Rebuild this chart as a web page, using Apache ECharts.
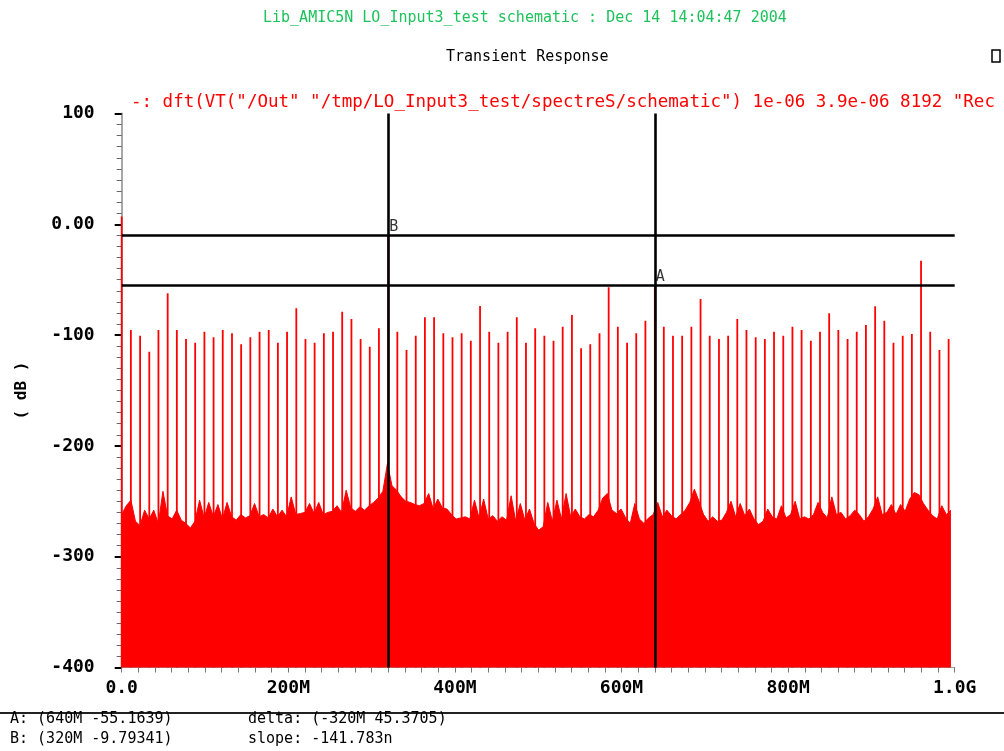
<!DOCTYPE html>
<html>
<head>
<meta charset="utf-8">
<title>Transient Response</title>
<script src="https://cdn.jsdelivr.net/npm/echarts/dist/echarts.min.js"></script>
<style>
html, body { margin: 0; padding: 0; background: #fff; }
#chart { width: 1004px; height: 751px; }
</style>
</head>
<body>
<div id="chart"></div>
<script>
// spectral lines (MHz / dB)
const spikeFreq = [
    0, 11.0, 22.1, 33.1, 44.1, 55.2, 66.2, 77.2, 88.2, 99.3, 110.3,
    121.3, 132.4, 143.4, 154.4, 165.5, 176.5, 187.5, 198.5, 209.6, 220.6,
    231.6, 242.7, 253.7, 264.7, 275.8, 286.8, 297.8, 308.8, 320.0, 330.9,
    341.9, 353.0, 364.0, 375.0, 386.1, 397.1, 408.1, 419.1, 430.2, 441.2,
    452.2, 463.3, 474.3, 485.3, 496.4, 507.4, 518.4, 529.4, 540.5, 551.5,
    562.5, 573.6, 584.6, 595.6, 606.7, 617.7, 628.7, 640.0, 650.8, 661.8,
    672.8, 683.9, 694.9, 705.9, 717.0, 728.0, 739.0, 750.0, 761.1, 772.1,
    783.1, 794.2, 805.2, 816.2, 827.3, 838.3, 849.3, 860.3, 871.4, 882.4,
    893.4, 904.5, 915.5, 926.5, 937.6, 948.6, 959.6, 970.6, 981.7, 992.7
];
const spikeDb = [
    7,
    -95.4, -100.5, -115.0, -95.4, -62.3, -95.4, -103.5, -106.8, -96.9, -102.0,
    -95.4, -98.4, -108.3, -102.0, -96.9, -95.4, -106.8, -96.9, -75.8, -103.5,
    -106.8, -98.4, -96.9, -78.9, -85.5, -103.5, -110.5, -93.9, -9.79, -96.9,
    -113.4, -100.5, -84.0, -84.0, -98.4, -102.0, -98.4, -105.0, -73.7, -96.9,
    -106.8, -96.9, -84.0, -106.8, -93.9, -100.5, -105.0, -92.4, -81.9, -111.9,
    -108.3, -98.4, -56.9, -92.4, -106.8, -98.4, -87.0, -55.16, -92.4, -100.5,
    -100.5, -92.4, -67.4, -100.5, -103.5, -100.5, -85.5, -95.4, -102.0, -103.5,
    -96.9, -100.5, -92.4, -95.4, -105.0, -96.9, -80.3, -95.4, -103.5, -96.9,
    -90.9, -74.0, -87.0, -106.8, -100.5, -99.0, -32.8, -96.9, -113.4, -103.5
];

// noise floor, one reading every 5.5 MHz from 0
const floorStepMHz = 5.5;
const floorDb = [
    -262, -254, -249, -268, -272, -258, -266, -258, -270, -241,
    -263, -266, -258, -267, -270, -274, -268, -249, -265, -251,
    -264, -253, -266, -251, -264, -267, -262, -265, -263, -252,
    -264, -262, -265, -257, -264, -258, -264, -246, -262, -261,
    -260, -252, -261, -251, -262, -260, -259, -254, -260, -240,
    -256, -259, -255, -258, -254, -251, -247, -241, -216, -236,
    -240, -246, -250, -251, -253, -254, -252, -243, -257, -248,
    -256, -257, -262, -266, -265, -264, -266, -249, -265, -248,
    -266, -263, -268, -264, -267, -245, -268, -252, -267, -257,
    -270, -276, -273, -251, -268, -249, -266, -243, -264, -257,
    -264, -266, -262, -264, -258, -247, -243, -258, -261, -257,
    -265, -270, -252, -266, -270, -265, -262, -251, -264, -258,
    -263, -266, -262, -258, -251, -239, -250, -262, -268, -264,
    -268, -267, -260, -250, -264, -252, -263, -257, -266, -271,
    -268, -257, -264, -266, -254, -265, -262, -250, -266, -264,
    -266, -262, -251, -260, -265, -246, -262, -260, -266, -263,
    -258, -262, -268, -264, -257, -246, -262, -260, -253, -262,
    -253, -259, -248, -242, -244, -252, -258, -263, -266, -254,
    -262, -258
];

// markers
const cursorNames = ['A', 'B'];
const cursorFreq = [640, 320];
const cursorDb = [-55.1639, -9.79341];

const xTicks = { 0: '0.0', 200: '200M', 400: '400M', 600: '600M', 800: '800M', 1000: '1.0G' };

const mono = 'DejaVu Sans Mono';

let chart = echarts.init(document.getElementById('chart'));

const floorData = floorDb.map((v, i) => [i * floorStepMHz, v]);
const spikeData = spikeFreq.map((f, i) => [f, spikeDb[i]]);
const cursorData = cursorFreq.map((f, i) => ({ value: [f, cursorDb[i]], name: cursorNames[i] }));

const option = {
    backgroundColor: '#fff',
    animation: false,
    title: [
        {
            text: 'Lib_AMIC5N LO_Input3_test schematic : Dec 14 14:04:47 2004',
            left: 258, top: 6,
            textStyle: { fontFamily: mono, fontSize: 15, fontWeight: 'normal', color: '#1ec25c' }
        },
        {
            text: 'Transient Response',
            left: 441, top: 45,
            textStyle: { fontFamily: mono, fontSize: 15, fontWeight: 'normal', color: '#000' }
        },
        {
            text: '-: dft(VT("/Out" "/tmp/LO_Input3_test/spectreS/schematic") 1e-06 3.9e-06 8192 "Rec',
            left: 126, top: 88,
            textStyle: { fontFamily: mono, fontSize: 17.5, fontWeight: 'normal', color: '#ff0000' }
        }
    ],
    grid: { left: 121.7, right: 49.3, top: 113.5, bottom: 83.5 },
    xAxis: {
        type: 'value',
        min: 0,
        max: 1000,
        interval: 200,
        axisLine: { show: true, onZero: false, lineStyle: { color: '#a0a0a0', width: 1 } },
        axisTick: { show: true, length: 5, lineStyle: { color: '#777' } },
        minorTick: { show: true, splitNumber: 10, length: 5, lineStyle: { color: '#777' } },
        splitLine: { show: false },
        axisLabel: {
            margin: 12,
            fontFamily: mono, fontSize: 18, fontWeight: 'bold', color: '#000',
            formatter: v => xTicks[v] || ''
        }
    },
    yAxis: {
        type: 'value',
        min: -400,
        max: 100,
        interval: 100,
        name: '( dB )',
        nameLocation: 'middle',
        nameRotate: 90,
        nameGap: 92,
        nameTextStyle: { fontFamily: mono, fontSize: 16, fontWeight: 'bold', color: '#000' },
        axisLine: { show: true, onZero: false, lineStyle: { color: '#a8a8a8', width: 2 } },
        axisTick: { show: true, length: 7, lineStyle: { color: '#000', width: 2 } },
        minorTick: { show: true, splitNumber: 10, length: 5, lineStyle: { color: '#666', width: 1 } },
        splitLine: { show: false },
        axisLabel: {
            margin: 27,
            fontFamily: mono, fontSize: 18, fontWeight: 'bold', color: '#000',
            formatter: v => (v === 0 ? '0.00' : String(v))
        }
    },
    series: [
        {
            name: 'floor',
            type: 'line',
            data: floorData,
            showSymbol: false,
            symbol: 'none',
            lineStyle: { color: '#ff0000', width: 1 },
            areaStyle: { color: '#ff0000', opacity: 1, origin: 'start' },
            z: 2
        },
        {
            name: 'spikes',
            type: 'custom',
            data: spikeData,
            renderItem: function (params, api) {
                const top = api.coord([api.value(0), api.value(1)]);
                const base = api.coord([api.value(0), -400]);
                return {
                    type: 'line',
                    shape: { x1: top[0], y1: top[1], x2: base[0], y2: base[1] },
                    style: { stroke: '#ff0000', lineWidth: 1.8 }
                };
            },
            z: 3
        },
        {
            name: 'cursors',
            type: 'scatter',
            data: cursorData,
            symbolSize: 0,
            silent: true,
            label: {
                show: true,
                position: 'right',
                distance: 1,
                offset: [0, -8],
                formatter: p => p.name,
                fontFamily: mono, fontSize: 15, color: '#000'
            },
            markLine: {
                silent: true,
                symbol: ['none', 'none'],
                label: { show: false },
                lineStyle: { color: '#000', width: 2.6, type: 'solid', opacity: 1 },
                data: [
                    { xAxis: cursorFreq[0] },
                    { xAxis: cursorFreq[1] },
                    { yAxis: cursorDb[0] },
                    { yAxis: cursorDb[1] }
                ]
            },
            z: 10
        }
    ],
    graphic: [
        {
            type: 'rect',
            shape: { x: 992, y: 50, width: 8, height: 12 },
            style: { fill: 'none', stroke: '#000', lineWidth: 1.5 }
        },
        {
            type: 'line',
            shape: { x1: 0, y1: 713, x2: 1004, y2: 713 },
            style: { stroke: '#222', lineWidth: 2 }
        },
        {
            type: 'text', left: 10, top: 712,
            style: { text: 'A: (640M -55.1639)', font: '15px "DejaVu Sans Mono"', fill: '#000' }
        },
        {
            type: 'text', left: 10, top: 732,
            style: { text: 'B: (320M -9.79341)', font: '15px "DejaVu Sans Mono"', fill: '#000' }
        },
        {
            type: 'text', left: 248, top: 712,
            style: { text: 'delta: (-320M 45.3705)', font: '15px "DejaVu Sans Mono"', fill: '#000' }
        },
        {
            type: 'text', left: 248, top: 732,
            style: { text: 'slope: -141.783n', font: '15px "DejaVu Sans Mono"', fill: '#000' }
        }
    ]
};

chart.setOption(option);
</script>
</body>
</html>
